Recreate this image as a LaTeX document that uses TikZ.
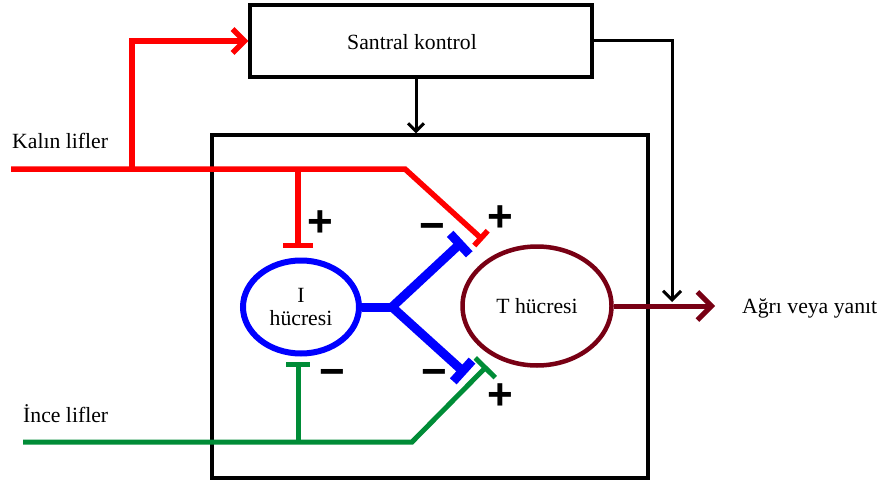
\documentclass[tikz,border=0pt]{standalone}
\usepackage{fontspec}
\setmainfont{Liberation Serif}
\newfontfamily\signfont{Liberation Sans}
\usetikzlibrary{arrows.meta,shapes.geometric}
\definecolor{myred}{RGB}{255,0,0}
\definecolor{myblue}{RGB}{0,0,255}
\definecolor{mygreen}{RGB}{0,140,55}
\definecolor{mymaroon}{RGB}{120,0,20}
\tikzset{
  boxstyle/.style={draw=black, line width=3.2pt, inner sep=0pt},
  lbl/.style={inner sep=0pt, font=\fontsize{21.7}{23}\selectfont},
  sign/.style={inner sep=0pt, font=\signfont\bfseries\fontsize{44}{44}\selectfont},
  redline/.style={draw=myred, line width=5.5pt},
  greenline/.style={draw=mygreen, line width=5pt},
  blueline/.style={draw=myblue, line width=9pt},
  blackline/.style={draw=black, line width=3pt},
  barb/.style={-{Straight Barb[length=#1, width=2*#1]}},
}
\begin{document}
\begin{tikzpicture}[x=1pt,y=-1pt]
\useasboundingbox (0,0) rectangle (877,484);

% boxes
\node[boxstyle, minimum width=436pt, minimum height=343pt] (main) at (430,306.5) {};
\node[boxstyle, minimum width=342pt, minimum height=72pt] (sk) at (421,41) {};
\node[lbl, anchor=base west] (skt) at (347,50) {Santral kontrol};

% cells
\node[ellipse, draw=myblue, line width=6pt, minimum width=116pt, minimum height=93pt,
      inner sep=0pt, align=center, font=\fontsize{21.7}{23}\selectfont] (icell) at (301,307) {I\\hücresi};
\node[ellipse, draw=mymaroon, line width=4.5pt, minimum width=149pt, minimum height=119pt,
      inner sep=0pt, font=\fontsize{21.7}{23}\selectfont] (tcell) at (537,306) {T hücresi};

% labels
\node[lbl, anchor=base west] (kalin) at (12,148) {Kalın lifler};
\node[lbl, anchor=base west] (ince) at (23,422) {İnce lifler};
\node[lbl, anchor=base west] (out) at (742,313) {Ağrı veya yanıt};

% coordinates
\coordinate (ka) at (416,0);
\coordinate (bk) at (672,302);
\coordinate (r0) at (11,169);
\coordinate (rj1) at (132,169);
\coordinate (rj2) at (298,169);
\coordinate (rk) at (405,169);
\coordinate (rtee) at (483,240);
\coordinate (ritee) at (298,248);
\coordinate (g0) at (23,442);
\coordinate (gj) at (298,442);
\coordinate (gk) at (412,442);
\coordinate (gtee) at (487,366);
\coordinate (gitee) at (298,362);
\coordinate (bj) at (392,307);
\coordinate (bt1) at (463,241);
\coordinate (bt2) at (466,374);
\coordinate (tip) at (715,306);

% black connectors
\draw[blackline, barb=8pt] (sk.south -| ka) -- (main.north -| ka);
\draw[blackline, barb=9pt] (sk.east) -| (bk);

% red (Kalın lifler)
\draw[redline, line join=miter, -{Bar[width=20pt]}] (r0) -- (rk) -- (rtee);
\draw[redline, barb=12pt] (rj1) |- (sk.west);
\draw[redline, -{Bar[width=30pt]}] (rj2) -- (ritee);

% green (İnce lifler)
\draw[greenline, -{Bar[width=28pt]}] (g0) -- (gk) -- (gtee);
\draw[greenline, -{Bar[width=24pt]}] (gj) -- (gitee);

% blue (I hücresi)
\draw[blueline] (icell.east) -- (bj);
\draw[blueline, -{Bar[width=28pt]}] (bj) -- (bt1);
\draw[blueline, -{Bar[width=28pt]}] (bj) -- (bt2);

% output
\draw[draw=mymaroon, line width=5pt, barb=14pt] (tcell.east) -- (tip);

% signs
\node[sign] (s1) at (320,224) {+};
\node[sign] (s2) at (432,232) {−};
\node[sign] (s3) at (500,219) {+};
\node[sign] (s4) at (332,378) {−};
\node[sign] (s5) at (434,378) {−};
\node[sign] (s6) at (500,397) {+};
\end{tikzpicture}
\end{document}
